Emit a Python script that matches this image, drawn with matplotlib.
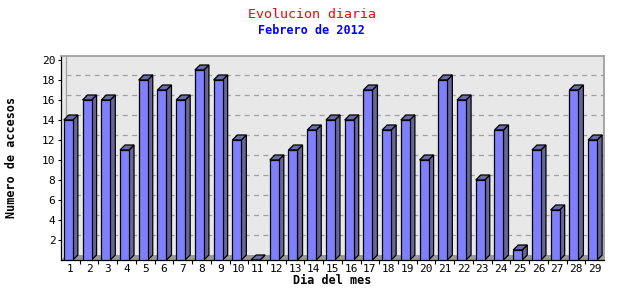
import matplotlib
matplotlib.use('Agg')
import matplotlib.pyplot as plt
from matplotlib.patches import Polygon
import numpy as np

dias = list(range(1, 30))
accesos = [14, 16, 16, 11, 18, 17, 16, 19, 18, 12, 0, 10, 11, 13, 14,
           14, 17, 13, 14, 10, 18, 16, 8, 13, 1, 11, 5, 17, 12]
yticks = [2, 4, 6, 8, 10, 12, 14, 16, 18, 20]

mono = 'DejaVu Sans Mono'
front_col = '#8080ff'
side_col = '#666699'
top_col = '#6b6ba8'

# 3d look, in data units
off = 0.35      # front face starts this far left of centre
w = 0.48        # front face width
dx = 0.27       # depth in x
dy = 0.5        # depth in y

fig = plt.figure(figsize=(6.4, 3.0), dpi=100)
ax = fig.add_axes([61/640, 40/300, 543/640, 204.5/300])
ax.set_facecolor('#e8e8e8')
ax.set_xlim(0.5, 29.5)
ax.set_ylim(0, 20.45)

# back wall grid
for v in yticks[:-1]:
    ax.plot([0.5 + dx, 29.5], [v + dy, v + dy], color='#a0a0a0',
            lw=0.9, ls=(0, (4, 3.5)), zorder=1)
ax.plot([0.5 + dx, 0.5 + dx], [dy, 20.45], color='#a0a0a0', lw=0.9, zorder=1)

# floor
ax.add_patch(Polygon([(0.5, 0), (29.5, 0), (29.5, dy), (0.5 + dx, dy)],
                     closed=True, facecolor='#999999', edgecolor='none', zorder=1))

# bars: front face with ax.bar, side and top as polygons
x = np.array(dias, dtype=float)
ax.bar(x - off, accesos, width=w, align='edge', color=front_col,
       edgecolor='black', lw=0.9, zorder=3)
for xi, v in zip(x, accesos):
    l = xi - off
    r = l + w
    side = [(r, 0), (r + dx, dy), (r + dx, v + dy), (r, v)]
    top = [(l, v), (r, v), (r + dx, v + dy), (l + dx, v + dy)]
    ax.add_patch(Polygon(side, closed=True, facecolor=side_col,
                         edgecolor='black', lw=0.9, zorder=2))
    ax.add_patch(Polygon(top, closed=True, facecolor=top_col,
                         edgecolor='black', lw=0.9, zorder=2))

ax.set_xticks(dias)
ax.set_xticklabels([str(d) for d in dias], fontfamily=mono, fontsize=8)
ax.set_xticks(np.arange(1.5, 29.5, 1), minor=True)
ax.tick_params(axis='x', which='major', length=0, pad=3)
ax.tick_params(axis='x', which='minor', length=3, direction='out', width=0.8)
ax.set_yticks(yticks)
ax.set_yticklabels([str(t) for t in yticks], fontfamily=mono, fontsize=8)
ax.tick_params(axis='y', length=2, direction='out', width=0.8, pad=2)

for s in ['top', 'right']:
    ax.spines[s].set_color('#999999')
    ax.spines[s].set_linewidth(1.2)
for s in ['left', 'bottom']:
    ax.spines[s].set_color('black')
    ax.spines[s].set_linewidth(0.9)

ax.set_xlabel('Dia del mes', fontfamily=mono, fontsize=8.5,
              fontweight='bold', labelpad=0)
ax.set_ylabel('Numero de accesos', fontfamily=mono, fontsize=8.5,
              fontweight='bold', labelpad=17)

fig.text(0.487, 1 - 14/300, 'Evolucion diaria', color='red',
         fontfamily=mono, fontsize=9.5, ha='center', va='center')
fig.text(0.487, 1 - 31/300, 'Febrero de 2012', color='blue',
         fontfamily=mono, fontsize=8.5, fontweight='bold',
         ha='center', va='center')

fig.savefig('out.png', dpi=100, facecolor='white')
